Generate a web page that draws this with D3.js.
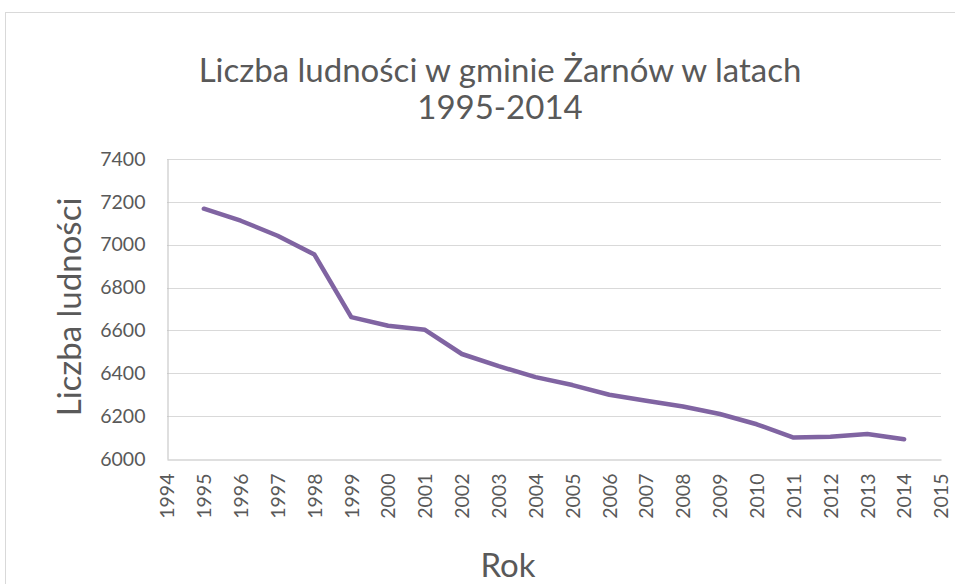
<!DOCTYPE html>
<html>
<head>
<meta charset="utf-8">
<script src="https://cdn.jsdelivr.net/npm/d3@7"></script>
<style>
  body { margin: 0; background: #fff; }
  text { font-family: Lato, "Open Sans", sans-serif; fill: #595959; }
</style>
</head>
<body>
<div id="chart"></div>
<script>
var width = 955,
    height = 584;

// data
var years = [1995, 1996, 1997, 1998, 1999, 2000, 2001, 2002, 2003, 2004,
             2005, 2006, 2007, 2008, 2009, 2010, 2011, 2012, 2013, 2014];
var population = [7168, 7112, 7042, 6954, 6662, 6622, 6603, 6490, 6433, 6382,
                  6345, 6300, 6272, 6245, 6210, 6162, 6100, 6104, 6117, 6092];
var yTicks = [6000, 6200, 6400, 6600, 6800, 7000, 7200, 7400];
var xTicks = d3.range(1994, 2016);

var titleLines = ["Liczba ludności w gminie Żarnów w latach", "1995-2014"];
var yTitle = "Liczba ludności";
var xTitle = "Rok";

var svg = d3.select('#chart').append('svg')
    .attr('width', width)
    .attr('height', height);

// chart frame
svg.append('rect')
    .attr('x', 5.5).attr('y', 12.5)
    .attr('width', 1000).attr('height', 700)
    .attr('fill', 'none')
    .attr('stroke', '#d9d9d9');

// plot area edges
var pLeft = 167, pRight = 941, pTop = 159, pBottom = 459;

let scaleX = d3.scaleLinear().domain([1994, 2015]).range([pLeft, pRight]);
let scaleY = d3.scaleLinear().domain([6000, 7400]).range([pBottom, pTop]);

// gridlines
svg.append('g').selectAll('line').data(yTicks.slice(1)).enter()
    .append('line')
    .attr('x1', pLeft).attr('x2', pRight)
    .attr('y1', d => Math.round(scaleY(d)) + 0.5)
    .attr('y2', d => Math.round(scaleY(d)) + 0.5)
    .attr('stroke', '#d9d9d9');

// y axis
var axisY = d3.axisLeft(scaleY).tickValues(yTicks).tickFormat(d3.format('d'))
    .tickSize(0).tickPadding(22);
var gy = svg.append('g').attr('transform', 'translate(' + (pLeft + 0.5) + ',0)').call(axisY);
gy.select('.domain').attr('stroke', '#bfbfbf');
gy.selectAll('text').attr('font-size', 19.5).attr('fill', '#595959')
    .attr('font-family', 'Lato, sans-serif');

// x axis
var axisX = d3.axisBottom(scaleX).tickValues(xTicks).tickFormat(d3.format('d')).tickSize(0);
var gx = svg.append('g').attr('transform', 'translate(0,' + (pBottom + 0.5) + ')').call(axisX);
gx.select('.domain').attr('stroke', '#bfbfbf');
gx.selectAll('text')
    .attr('font-size', 19.5).attr('fill', '#595959')
    .attr('font-family', 'Lato, sans-serif')
    .attr('transform', 'rotate(-90)')
    .attr('text-anchor', 'end')
    .attr('x', -14).attr('y', 0).attr('dy', '0.35em');

// the line
var line = d3.line()
    .x((d, i) => scaleX(years[i]))
    .y(d => scaleY(d));
svg.append('path')
    .datum(population)
    .attr('d', line)
    .attr('fill', 'none')
    .attr('stroke', '#8064a2')
    .attr('stroke-width', 4.5)
    .attr('stroke-linejoin', 'round')
    .attr('stroke-linecap', 'round');

// titles
svg.selectAll('.title').data(titleLines).enter()
    .append('text')
    .attr('class', 'title')
    .attr('x', 500)
    .attr('y', (d, i) => 82 + i * 37)
    .attr('text-anchor', 'middle')
    .attr('font-size', 33)
    .text(d => d);

svg.append('text')
    .attr('transform', 'translate(81,307) rotate(-90)')
    .attr('text-anchor', 'middle')
    .attr('font-size', 33)
    .text(yTitle);

svg.append('text')
    .attr('x', 508).attr('y', 577)
    .attr('text-anchor', 'middle')
    .attr('font-size', 33)
    .text(xTitle);
</script>
</body>
</html>
